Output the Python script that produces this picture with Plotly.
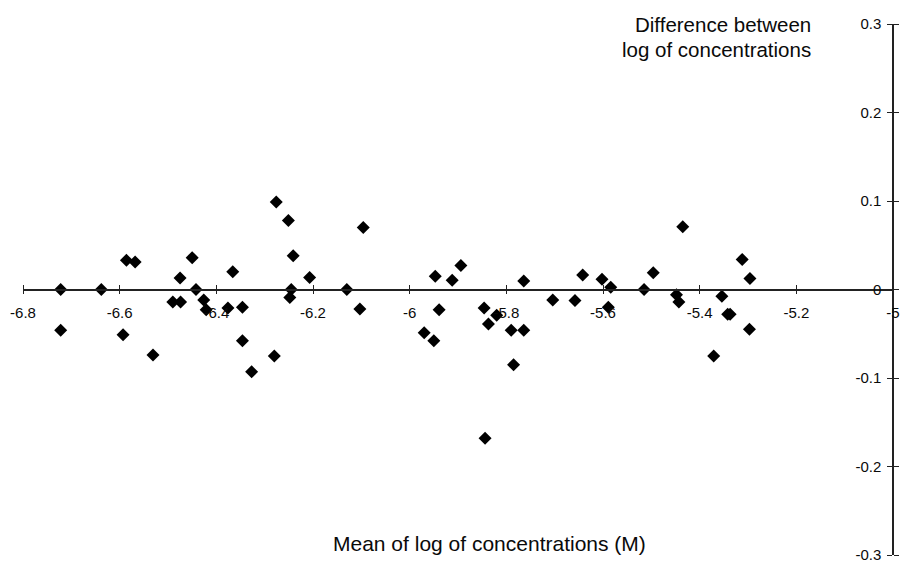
import plotly.graph_objects as go

# Data
mean_log = [-6.722, -6.722, -6.638, -6.586, -6.568, -6.593, -6.531, -6.490, -6.474, -6.475,
            -6.450, -6.442, -6.426, -6.421, -6.376, -6.366, -6.346, -6.346, -6.327, -6.280,
            -6.276, -6.251, -6.241, -6.245, -6.248, -6.207, -6.130, -6.103, -6.096, -5.970,
            -5.950, -5.947, -5.939, -5.912, -5.894, -5.846, -5.837, -5.820, -5.790, -5.785,
            -5.764, -5.764, -5.704, -5.658, -5.844, -5.642, -5.602, -5.589, -5.584, -5.515,
            -5.496, -5.448, -5.443, -5.435, -5.371, -5.354, -5.342, -5.337, -5.312, -5.296,
            -5.297]
diff_log = [0.000, -0.046, 0.000, 0.033, 0.031, -0.051, -0.074, -0.014, -0.014, 0.013,
            0.036, 0.000, -0.012, -0.023, -0.021, 0.020, -0.020, -0.058, -0.093, -0.075,
            0.099, 0.078, 0.038, 0.000, -0.009, 0.0135, 0.000, -0.022, 0.070, -0.049,
            -0.058, 0.015, -0.023, 0.0105, 0.027, -0.021, -0.039, -0.029, -0.046, -0.085,
            -0.046, 0.0097, -0.012, -0.0124, -0.168, 0.0165, 0.0116, -0.020, 0.0026, 0.000,
            0.019, -0.006, -0.014, 0.071, -0.075, -0.0076, -0.028, -0.028, 0.034, 0.0124,
            -0.045]

x_tickvals = [-6.8, -6.6, -6.4, -6.2, -6.0, -5.8, -5.6, -5.4, -5.2, -5.0]
x_ticktext = ["-6.8", "-6.6", "-6.4", "-6.2", "-6", "-5.8", "-5.6", "-5.4", "-5.2", "-5"]
y_tickvals = [-0.3, -0.2, -0.1, 0.0, 0.1, 0.2, 0.3]
y_ticktext = ["-0.3", "-0.2", "-0.1", "0", "0.1", "0.2", "0.3"]

FONT = "Liberation Sans, Arial, sans-serif"
AX = "#222222"
TXT = "#0a0a0a"

fig = go.Figure()
fig.add_trace(go.Scatter(
    x=mean_log, y=diff_log, mode="markers",
    marker=dict(symbol="diamond", size=10, color="black", line=dict(width=0)),
    showlegend=False, hoverinfo="x+y"))
# invisible trace to activate secondary axes
fig.add_trace(go.Scatter(x=[None], y=[None], xaxis="x2", yaxis="y2",
                         showlegend=False, hoverinfo="skip"))

common_x = dict(range=[-6.8, -5.0], showgrid=False, zeroline=False,
                showline=True, linecolor=AX, linewidth=1.5,
                tickmode="array", tickvals=x_tickvals,
                ticks="outside", ticklen=4, tickwidth=1.3, tickcolor=AX,
                anchor="free", position=0.5, automargin=False)
common_y = dict(range=[-0.3, 0.3], showgrid=False, zeroline=False,
                showline=True, linecolor=AX, linewidth=1.5,
                tickmode="array", tickvals=y_tickvals,
                ticks="outside", ticklen=5, tickwidth=1.3, tickcolor=AX,
                anchor="free", position=1.0, automargin=False)

L, T, W, H = 23, 24, 870, 531


def px_x(p):
    return (p - L) / W


def px_y(p):
    return (T + H - p) / H


fig.update_layout(
    width=900, height=566,
    margin=dict(l=L, r=900 - L - W, t=T, b=566 - T - H, autoexpand=False),
    paper_bgcolor="white", plot_bgcolor="white",
    font=dict(family=FONT, color=TXT),
    xaxis=dict(**common_x, side="bottom", ticktext=x_ticktext,
               tickfont=dict(size=15, family=FONT, color=TXT),
               ticklabelstandoff=6),
    xaxis2=dict(**common_x, side="top", overlaying="x", showticklabels=False),
    yaxis=dict(**common_y, side="left", ticktext=y_ticktext,
               tickfont=dict(size=15, family=FONT, color=TXT),
               ticklabelstandoff=3),
    yaxis2=dict(**common_y, side="right", overlaying="y", showticklabels=False),
    annotations=[
        dict(text="Difference between", xref="paper", yref="paper",
             x=px_x(813), y=px_y(24), xanchor="right", yanchor="middle",
             showarrow=False, font=dict(size=20.5, family=FONT, color=TXT)),
        dict(text="log of concentrations", xref="paper", yref="paper",
             x=px_x(813), y=px_y(49), xanchor="right", yanchor="middle",
             showarrow=False, font=dict(size=20.5, family=FONT, color=TXT)),
        dict(text="Mean of log of concentrations (M)", xref="paper", yref="paper",
             x=px_x(489), y=px_y(543), xanchor="center", yanchor="middle",
             showarrow=False, font=dict(size=21, family=FONT, color=TXT)),
    ],
)

fig.write_html("out.html", config={"displayModeBar": False},
               post_script="document.body.style.margin='0';document.body.style.overflow='hidden';")
